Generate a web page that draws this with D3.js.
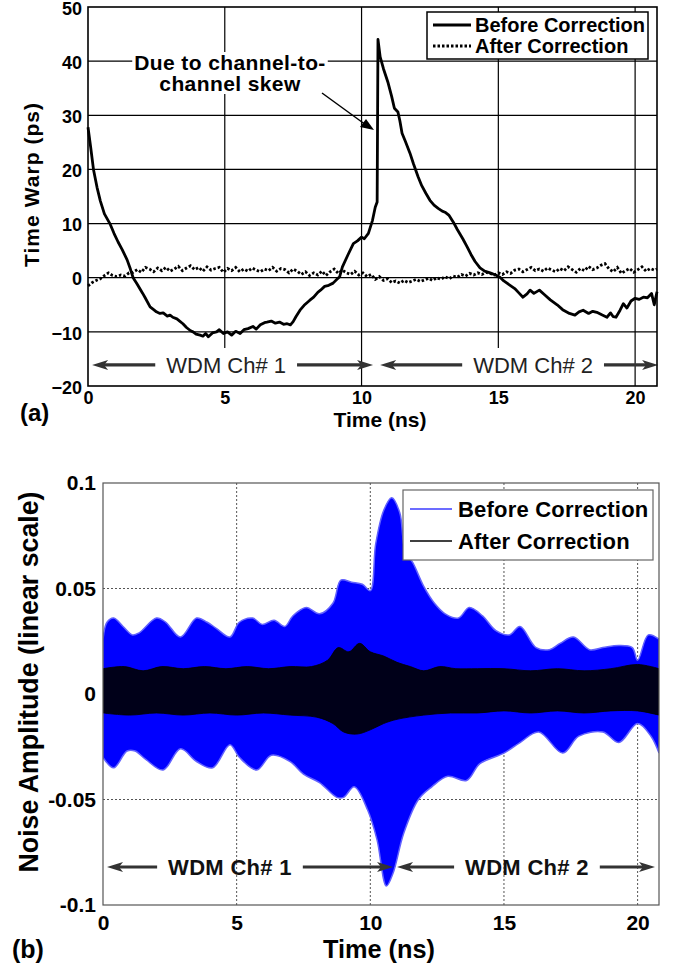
<!DOCTYPE html>
<html>
<head>
<meta charset="UTF-8">
<script src="https://d3js.org/d3.v7.min.js"></script>
<style>
  body { margin: 0; background: #fff; }
  text { font-family: "Liberation Sans", Arial, Helvetica, sans-serif; }
</style>
</head>
<body>
<svg id="chart" width="675" height="967"></svg>
<script>
// ---------- (a) time warp [t ns, ps] ----------
const beforeWarp = [[0,27.8],[0.1,24],[0.2,20],[0.33,16.7],[0.45,14.2],[0.6,11.8],[0.8,10],[0.95,8.2],[1.1,6.6],[1.25,5.2],[1.43,3.3],[1.55,1.6],[1.65,0],[1.8,-1.2],[2.0,-2.9],[2.1,-3.8],[2.27,-5.4],[2.4,-5.9],[2.5,-6.3],[2.63,-6.6],[2.75,-6.5],[2.9,-7.1],[3.0,-6.9],[3.1,-7.3],[3.25,-7.6],[3.35,-8.0],[3.47,-8.5],[3.6,-9.2],[3.75,-9.8],[3.84,-10],[3.95,-10.4],[4.1,-10.6],[4.2,-10.8],[4.3,-10.3],[4.4,-10.9],[4.55,-10.2],[4.7,-10],[4.8,-9.6],[4.95,-10.3],[5.1,-10],[5.25,-10.6],[5.4,-9.9],[5.56,-10.3],[5.7,-9.6],[5.85,-9.4],[6.03,-9],[6.15,-9.5],[6.3,-8.7],[6.45,-8.3],[6.54,-8.2],[6.7,-8.0],[6.85,-8.4],[7.0,-8.2],[7.15,-8.6],[7.28,-8.5],[7.4,-8.7],[7.5,-8.1],[7.6,-7.2],[7.75,-6],[7.9,-5.1],[8.1,-4.2],[8.25,-3.6],[8.4,-2.7],[8.5,-2.3],[8.65,-1.6],[8.8,-1.4],[8.96,-1],[9.1,-0.3],[9.2,0.2],[9.3,2],[9.5,4.2],[9.7,6.3],[9.85,6.8],[10.0,7.5],[10.1,7.2],[10.25,8.2],[10.4,10.6],[10.5,13],[10.57,14],[10.6,44],[10.68,40.8],[10.8,38.6],[10.97,36],[11.1,33.5],[11.2,31.3],[11.33,30.6],[11.4,29],[11.48,26.7],[11.6,25.2],[11.77,23],[11.9,21],[12.07,18.6],[12.2,17],[12.35,15.6],[12.5,14.3],[12.65,13.4],[12.8,12.8],[12.95,12.3],[13.05,12.1],[13.2,11.5],[13.35,10.3],[13.5,8.9],[13.7,7.2],[13.86,5.7],[14.0,4.3],[14.15,3.0],[14.33,1.8],[14.5,1.2],[14.7,0.9],[14.9,0.5],[15.06,0.1],[15.2,-0.6],[15.43,-1.4],[15.6,-2.0],[15.75,-2.8],[15.9,-3.6],[16.05,-3.0],[16.16,-2.3],[16.3,-2.9],[16.5,-2.3],[16.7,-3.2],[16.9,-4.1],[17.15,-5],[17.35,-5.9],[17.6,-6.6],[17.8,-6.9],[17.95,-6.3],[18.1,-6],[18.3,-6.6],[18.45,-6.2],[18.6,-6.4],[18.8,-6.9],[18.97,-7.3],[19.1,-6.5],[19.2,-7.2],[19.3,-7.3],[19.45,-6.0],[19.57,-4.8],[19.7,-5.6],[19.85,-4.3],[20.0,-3.8],[20.15,-4.0],[20.3,-3.6],[20.45,-3.7],[20.6,-2.9],[20.7,-5],[20.8,-2.6]];

const afterWarp = [[0,-1.5],[0.15,-0.9],[0.3,-0.5],[0.45,-0.2],[0.6,0.4],[0.75,0.9],[0.9,0.4],[1.05,0.2],[1.2,0.5],[1.35,0.3],[1.5,0.9],[1.65,1.0],[1.8,1.5],[1.95,1.0],[2.1,1.9],[2.25,1.6],[2.4,1.1],[2.55,1.8],[2.7,1.3],[2.85,1.9],[3.0,1.2],[3.15,1.6],[3.3,2.1],[3.45,1.3],[3.6,1.8],[3.75,2.2],[3.9,1.5],[4.05,1.9],[4.2,1.2],[4.35,2.0],[4.5,1.4],[4.65,1.7],[4.8,1.9],[4.95,1.0],[5.1,1.7],[5.25,1.3],[5.4,1.9],[5.55,1.1],[5.7,1.6],[5.85,1.2],[6.0,1.8],[6.15,1.4],[6.3,1.1],[6.45,1.6],[6.6,1.3],[6.75,1.9],[6.9,1.2],[7.05,1.7],[7.2,1.5],[7.35,0.9],[7.5,1.6],[7.65,1.2],[7.8,0.6],[7.95,1.1],[8.1,0.4],[8.25,0.9],[8.4,0.5],[8.55,1.2],[8.7,0.4],[8.85,1.1],[9.0,1.6],[9.15,0.8],[9.3,1.4],[9.45,0.9],[9.6,0.6],[9.75,1.2],[9.9,0.5],[10.05,0.9],[10.2,0.2],[10.35,0.6],[10.5,-0.3],[10.65,0.2],[10.8,-0.5],[10.95,-0.2],[11.1,-0.9],[11.25,-0.6],[11.4,-1.0],[11.55,-0.5],[11.7,-0.9],[11.85,-0.6],[12.0,-0.3],[12.15,-0.7],[12.3,-0.4],[12.45,-0.1],[12.6,-0.5],[12.75,0],[12.9,-0.3],[13.05,0.2],[13.2,-0.2],[13.35,0.3],[13.5,0.1],[13.65,0.6],[13.8,0.3],[13.95,0.8],[14.1,0.5],[14.25,0.9],[14.4,0.6],[14.55,1.0],[14.7,0.8],[14.85,0.5],[15.0,0.9],[15.15,0.6],[15.3,1.1],[15.45,0.8],[15.6,1.4],[15.75,1.6],[15.9,1.1],[16.05,1.5],[16.2,1.9],[16.35,1.3],[16.5,1.6],[16.65,1.2],[16.8,1.8],[16.95,1.4],[17.1,1.1],[17.25,1.7],[17.4,1.3],[17.55,2.0],[17.7,1.5],[17.85,1.0],[18.0,1.7],[18.15,1.3],[18.3,2.1],[18.45,1.5],[18.6,1.8],[18.75,2.3],[18.9,2.6],[19.05,1.6],[19.2,1.1],[19.35,1.9],[19.5,0.8],[19.65,1.3],[19.8,1.7],[19.95,1.0],[20.1,1.5],[20.25,2.0],[20.4,1.2],[20.55,1.7],[20.7,1.4],[20.8,1.6]];

const warpTicks = [-20, -10, 0, 10, 20, 30, 40, 50];
const timeTicks = [0, 5, 10, 15, 20];
const timeMax = 20.8;

// ---------- (b) noise envelopes [t ns, amplitude] ----------
const blueUpper = [[0,0.026],[0.15,0.034],[0.4,0.036],[0.75,0.032],[1.1,0.028],[1.35,0.029],[2.0,0.036],[2.35,0.034],[2.9,0.027],[3.5,0.036],[3.9,0.034],[4.25,0.031],[4.75,0.027],[5.1,0.034],[5.6,0.036],[5.95,0.033],[6.4,0.035],[6.8,0.032],[7.1,0.037],[7.6,0.041],[8.1,0.038],[8.6,0.043],[8.9,0.054],[9.3,0.053],[9.7,0.052],[10.0,0.049],[10.2,0.071],[10.5,0.087],[10.8,0.093],[11.1,0.086],[11.3,0.068],[11.6,0.062],[12.0,0.051],[12.4,0.043],[12.8,0.038],[13.3,0.036],[13.7,0.041],[14.2,0.037],[14.7,0.030],[15.2,0.028],[15.6,0.032],[16.2,0.022],[16.7,0.021],[17.1,0.024],[17.6,0.027],[18.2,0.021],[18.7,0.022],[19.3,0.023],[19.8,0.022],[20.0,0.016],[20.4,0.028],[20.8,0.026]];
const blueLower = [[0,-0.030],[0.4,-0.035],[0.9,-0.027],[1.2,-0.027],[1.6,-0.031],[2.25,-0.036],[2.9,-0.026],[3.5,-0.032],[4.1,-0.035],[4.75,-0.024],[5.1,-0.030],[5.75,-0.036],[6.3,-0.029],[7.0,-0.032],[7.5,-0.038],[8.1,-0.042],[8.75,-0.049],[9.0,-0.049],[9.4,-0.044],[9.9,-0.055],[10.25,-0.069],[10.6,-0.091],[10.85,-0.085],[11.25,-0.066],[11.8,-0.050],[12.3,-0.044],[12.9,-0.039],[13.6,-0.041],[14.1,-0.033],[15.0,-0.028],[15.6,-0.023],[16.3,-0.018],[17.2,-0.028],[17.8,-0.020],[18.7,-0.018],[19.3,-0.023],[20.0,-0.014],[20.5,-0.020],[20.8,-0.028]];
const blackUpper = [[0,0.012],[0.8,0.013],[1.5,0.011],[2.2,0.013],[3.0,0.012],[3.8,0.013],[4.6,0.012],[5.4,0.013],[6.2,0.012],[7.0,0.013],[7.8,0.013],[8.4,0.016],[8.8,0.022],[9.2,0.020],[9.6,0.024],[10.0,0.020],[10.5,0.018],[11.0,0.015],[11.5,0.013],[12.0,0.011],[12.6,0.013],[13.2,0.012],[14.0,0.012],[15.0,0.012],[16.0,0.011],[17.0,0.012],[18.0,0.011],[19.0,0.012],[20.0,0.014],[20.8,0.012]];
const blackLower = [[0,-0.009],[1.0,-0.010],[2.0,-0.009],[3.0,-0.010],[4.0,-0.009],[5.0,-0.010],[6.0,-0.009],[7.0,-0.010],[8.0,-0.011],[8.6,-0.014],[9.0,-0.018],[9.5,-0.019],[10.0,-0.017],[10.5,-0.014],[11.0,-0.012],[12.0,-0.010],[13.0,-0.009],[14.0,-0.009],[15.0,-0.008],[16.0,-0.009],[17.0,-0.008],[18.0,-0.009],[19.0,-0.008],[20.0,-0.008],[20.8,-0.010]];
const noiseTicks = [-0.1, -0.05, 0, 0.05, 0.1];

const seriesLabels = ["Before Correction", "After Correction"];
// WDM channel spans: arrow from / to (ns) and label centre (ns)
const wdmTop = [{ label: "WDM Ch# 1", from: 0.15, to: 10.42, at: 5.05 },
                { label: "WDM Ch# 2", from: 10.68, to: 20.84, at: 16.27 }];
const wdmBottom = [{ label: "WDM Ch# 1", from: 0.15, to: 10.85, at: 4.75 },
                   { label: "WDM Ch# 2", from: 11.0, to: 20.65, at: 15.86 }];

const svg = d3.select("#chart");

function wdmArrows(g, x, yPos, spans, opts) {
    spans.forEach(s => {
        const t = g.append("text")
            .attr("x", x(s.at)).attr("y", yPos + opts.size * 0.36)
            .attr("text-anchor", "middle")
            .style("font-size", opts.size + "px")
            .style("font-weight", opts.weight)
            .style("letter-spacing", opts.spacing || "0px")
            .attr("fill", opts.textColor)
            .text(s.label);
        const w = t.node().getComputedTextLength();
        const l = x(s.at) - w / 2 - 11, r = x(s.at) + w / 2 + 11;
        const x0 = x(s.from), x1 = x(s.to);
        g.append("line").attr("x1", x0 + 10).attr("x2", l).attr("y1", yPos).attr("y2", yPos)
            .attr("stroke", "#333").attr("stroke-width", 3.2);
        g.append("line").attr("x1", r).attr("x2", x1 - 10).attr("y1", yPos).attr("y2", yPos)
            .attr("stroke", "#333").attr("stroke-width", 3.2);
        g.append("path").attr("d", `M${x0},${yPos}L${x0 + 16},${yPos - 5}L${x0 + 12},${yPos}L${x0 + 16},${yPos + 5}Z`)
            .attr("fill", "#333");
        g.append("path").attr("d", `M${x1},${yPos}L${x1 - 16},${yPos - 5}L${x1 - 12},${yPos}L${x1 - 16},${yPos + 5}Z`)
            .attr("fill", "#333");
    });
}

// ================= (a) =================
{
    const L = 88, R = 657, T = 7, B = 386;
    const x = d3.scaleLinear().domain([0, timeMax]).range([L, R]);
    const y = d3.scaleLinear().domain([-20, 50]).range([B, T]);
    const g = svg.append("g");

    // grid
    g.selectAll(".hg").data(warpTicks.filter(d => d > -20 && d < 50)).enter()
        .append("line").attr("x1", L).attr("x2", R)
        .attr("y1", d => y(d)).attr("y2", d => y(d))
        .attr("stroke", "#000").attr("stroke-width", 1.2);
    g.selectAll(".vg").data(timeTicks.filter(d => d > 0)).enter()
        .append("line").attr("x1", d => x(d)).attr("x2", d => x(d))
        .attr("y1", T).attr("y2", d => d % 10 === 0 ? B : y(-13))
        .attr("stroke", "#000").attr("stroke-width", 1.2);

    const line = d3.line().x(d => x(d[0])).y(d => y(d[1]));
    g.append("path").datum(afterWarp).attr("d", line)
        .attr("fill", "none").attr("stroke", "#000").attr("stroke-width", 2.8)
        .attr("stroke-dasharray", "2.5,2");
    g.append("path").datum(beforeWarp).attr("d", line)
        .attr("fill", "none").attr("stroke", "#000").attr("stroke-width", 2.8)
        .attr("stroke-linejoin", "round");

    // annotation
    const ann = g.append("g");
    const annBg = ann.append("rect").attr("fill", "#fff");
    const annText = ann.append("text").attr("text-anchor", "middle")
        .style("font-size", "21px").style("font-weight", "bold").style("letter-spacing", "0.4px");
    annText.append("tspan").attr("x", 230).attr("y", 70).text("Due to channel-to-");
    annText.append("tspan").attr("x", 230).attr("y", 91).text("channel skew");
    const bb = annText.node().getBBox();
    annBg.attr("x", bb.x - 2).attr("y", bb.y + 1).attr("width", bb.width + 4).attr("height", bb.height - 2);
    ann.append("line").attr("x1", 322).attr("y1", 93).attr("x2", 366).attr("y2", 125)
        .attr("stroke", "#000").attr("stroke-width", 1.5);
    ann.append("path").attr("d", "M374,130L360,127L366,119Z").attr("fill", "#000");

    wdmArrows(g, x, y(-16.1), wdmTop, { size: 22, weight: "normal", textColor: "#222" });

    // frame
    g.append("rect").attr("x", L).attr("y", T).attr("width", R - L).attr("height", B - T)
        .attr("fill", "none").attr("stroke", "#000").attr("stroke-width", 1.6);

    // axes
    const ya = g.append("g").attr("transform", `translate(${L},0)`)
        .call(d3.axisLeft(y).tickValues(warpTicks).tickSize(0).tickPadding(6));
    const xa = g.append("g").attr("transform", `translate(0,${B})`)
        .call(d3.axisBottom(x).tickValues(timeTicks).tickSize(0).tickPadding(5));
    [ya, xa].forEach(a => {
        a.select(".domain").remove();
        a.selectAll("text").style("font-size", "18px").style("font-weight", "bold")
            .attr("fill", "#000").style("font-family", "'Liberation Sans', Arial, sans-serif");
    });
    ya.selectAll("text").attr("dy", "0.4em");

    g.append("text").attr("transform", `translate(39,${(103 + 267) / 2}) rotate(-90)`)
        .attr("text-anchor", "middle").style("font-size", "21px").style("font-weight", "bold")
        .attr("textLength", 164).attr("lengthAdjust", "spacing")
        .text("Time Warp (ps)");
    g.append("text").attr("x", 380).attr("y", 427).attr("text-anchor", "middle")
        .style("font-size", "21px").style("font-weight", "bold").text("Time (ns)");
    g.append("text").attr("x", 20).attr("y", 421)
        .style("font-size", "24px").style("font-weight", "bold").text("(a)");

    // legend
    const lg = g.append("g");
    lg.append("rect").attr("x", 427).attr("y", 12).attr("width", 221).attr("height", 47)
        .attr("fill", "#fff").attr("stroke", "#000").attr("stroke-width", 1.5);
    seriesLabels.forEach((s, i) => {
        const yy = 25 + i * 21;
        lg.append("line").attr("x1", 433).attr("x2", 471).attr("y1", yy).attr("y2", yy)
            .attr("stroke", "#000").attr("stroke-width", 2.8)
            .attr("stroke-dasharray", i === 1 ? "2.5,2" : null);
        lg.append("text").attr("x", 475).attr("y", yy + 7)
            .style("font-size", "20px").style("font-weight", "bold").text(s);
    });
}

// ================= (b) =================
{
    const L = 103, R = 659, T = 483, B = 905;
    const x = d3.scaleLinear().domain([0, timeMax]).range([L, R]);
    const y = d3.scaleLinear().domain([-0.1, 0.1]).range([B, T]);
    const g = svg.append("g");

    svg.append("clipPath").attr("id", "clipB").append("rect")
        .attr("x", L).attr("y", T).attr("width", R - L).attr("height", B - T);

    // dotted grid
    g.selectAll(".hg").data(noiseTicks.filter(d => Math.abs(d) > 0.01 && Math.abs(d) < 0.09)).enter()
        .append("line").attr("x1", L).attr("x2", R)
        .attr("y1", d => y(d)).attr("y2", d => y(d))
        .attr("stroke", "#555").attr("stroke-width", 1).attr("stroke-dasharray", "2,2");
    g.selectAll(".vg").data(timeTicks.filter(d => d > 0)).enter()
        .append("line").attr("x1", d => x(d)).attr("x2", d => x(d))
        .attr("y1", T).attr("y2", B)
        .attr("stroke", "#555").attr("stroke-width", 1).attr("stroke-dasharray", "2,2");

    const curve = d3.line().x(d => x(d[0])).y(d => y(d[1])).curve(d3.curveCatmullRom.alpha(0.5));
    const band = (up, lo) => curve(up) + "L" + curve(lo.slice().reverse()).slice(1) + "Z";

    const plot = g.append("g").attr("clip-path", "url(#clipB)");
    plot.append("path").attr("d", band(blueUpper, blueLower))
        .attr("fill", "#0000ff").attr("stroke", "#6262ff").attr("stroke-width", 1.5);
    plot.append("path").attr("d", band(blackUpper, blackLower))
        .attr("fill", "#000").attr("fill-opacity", 0.9)
        .attr("stroke", "#000").attr("stroke-width", 0.8);

    wdmArrows(g, x, 867, wdmBottom, { size: 22, weight: "bold", textColor: "#111", spacing: "0.3px" });

    g.append("rect").attr("x", L).attr("y", T).attr("width", R - L).attr("height", B - T)
        .attr("fill", "none").attr("stroke", "#555").attr("stroke-width", 1.2);

    const ya = g.append("g").attr("transform", `translate(${L},0)`)
        .call(d3.axisLeft(y).tickValues(noiseTicks).tickSize(0).tickPadding(7).tickFormat(d => String(d)));
    const xa = g.append("g").attr("transform", `translate(0,${B})`)
        .call(d3.axisBottom(x).tickValues(timeTicks).tickSize(0).tickPadding(10));
    [ya, xa].forEach(a => {
        a.select(".domain").remove();
        a.selectAll("text").style("font-size", "21px").style("font-weight", "bold")
            .attr("fill", "#000").style("font-family", "'Liberation Sans', Arial, sans-serif");
    });

    g.append("text").attr("transform", `translate(38,682) rotate(-90)`)
        .attr("text-anchor", "middle").style("font-size", "27px").style("font-weight", "bold")
        .attr("textLength", 381).attr("lengthAdjust", "spacingAndGlyphs")
        .text("Noise Amplitude (linear scale)");
    g.append("text").attr("x", 379).attr("y", 958).attr("text-anchor", "middle")
        .style("font-size", "25px").style("font-weight", "bold")
        .attr("textLength", 112).attr("lengthAdjust", "spacingAndGlyphs")
        .text("Time (ns)");
    g.append("text").attr("x", 12).attr("y", 958)
        .style("font-size", "25px").style("font-weight", "bold").text("(b)");

    const lg = g.append("g");
    lg.append("rect").attr("x", 403).attr("y", 490).attr("width", 250).attr("height", 70)
        .attr("fill", "#fff").attr("stroke", "#666").attr("stroke-width", 1.2);
    seriesLabels.forEach((s, i) => {
        const yy = 509 + i * 32;
        lg.append("line").attr("x1", 410).attr("x2", 452).attr("y1", yy).attr("y2", yy)
            .attr("stroke", i === 0 ? "#3b3bff" : "#000").attr("stroke-width", 1.3);
        lg.append("text").attr("x", 458).attr("y", yy + 8)
            .style("font-size", "22px").style("font-weight", "bold").style("letter-spacing", "0.2px")
            .text(s);
    });
}
</script>
</body>
</html>
